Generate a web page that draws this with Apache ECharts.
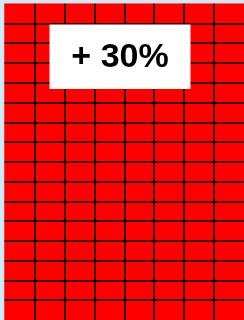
<!DOCTYPE html>
<html>
<head>
<meta charset="utf-8">
<script src="https://cdn.jsdelivr.net/npm/echarts@6/dist/echarts.min.js"></script>
<style>
  html, body { margin: 0; padding: 0; background: #cfe9f7; }
  #chart { width: 244px; height: 320px; }
</style>
</head>
<body>
<div id="chart"></div>
<script>
// grid of cells, 8 columns by 16 rows, all same value
var columns = ['A', 'B', 'C', 'D', 'E', 'F', 'G', 'H'];
var rows = ['1', '2', '3', '4', '5', '6', '7', '8', '9', '10', '11', '12', '13', '14', '15', '16'];
var cellValues = [
  [1, 1, 1, 1, 1, 1, 1, 1],
  [1, 1, 1, 1, 1, 1, 1, 1],
  [1, 1, 1, 1, 1, 1, 1, 1],
  [1, 1, 1, 1, 1, 1, 1, 1],
  [1, 1, 1, 1, 1, 1, 1, 1],
  [1, 1, 1, 1, 1, 1, 1, 1],
  [1, 1, 1, 1, 1, 1, 1, 1],
  [1, 1, 1, 1, 1, 1, 1, 1],
  [1, 1, 1, 1, 1, 1, 1, 1],
  [1, 1, 1, 1, 1, 1, 1, 1],
  [1, 1, 1, 1, 1, 1, 1, 1],
  [1, 1, 1, 1, 1, 1, 1, 1],
  [1, 1, 1, 1, 1, 1, 1, 1],
  [1, 1, 1, 1, 1, 1, 1, 1],
  [1, 1, 1, 1, 1, 1, 1, 1],
  [1, 1, 1, 1, 1, 1, 1, 1]
];
var badgeText = '+ 30%';

var data = [];
for (var r = 0; r < rows.length; r++) {
  for (var c = 0; c < columns.length; c++) {
    data.push([c, r, cellValues[r][c]]);
  }
}

var myChart = echarts.init(document.getElementById('chart'));
var option = {
  animation: false,
  backgroundColor: '#cfe9f7',
  grid: { left: 4.5, top: 3.7, width: 241.6, height: 316.5 },
  xAxis: {
    type: 'category',
    data: columns,
    z: 5,
    axisLine: { show: false },
    axisTick: { show: false },
    axisLabel: { show: false },
    splitLine: { show: true, showMinLine: false, showMaxLine: false, lineStyle: { color: '#000', width: 2, opacity: 0.8 } }
  },
  yAxis: {
    type: 'category',
    data: rows,
    inverse: true,
    z: 5,
    axisLine: { show: false },
    axisTick: { show: false },
    axisLabel: { show: false },
    splitLine: { show: true, showMinLine: false, showMaxLine: false, lineStyle: { color: '#000', width: 2, opacity: 0.8 } }
  },
  visualMap: {
    show: false,
    min: 0,
    max: 1,
    inRange: { color: ['#ff0000', '#ff0000'] }
  },
  series: [{
    type: 'heatmap',
    data: data,
    itemStyle: { color: '#ff0000' },
    emphasis: { disabled: true }
  }],
  graphic: [{
    type: 'rect',
    z: 10,
    shape: { x: 49.5, y: 24.5, width: 141, height: 64.5 },
    style: { fill: '#fff' }
  }, {
    type: 'text',
    z: 11,
    x: 120,
    y: 57.5,
    style: {
      text: badgeText,
      fill: '#000',
      font: 'bold 34px "Liberation Sans", Arial, sans-serif',
      align: 'center',
      verticalAlign: 'middle'
    }
  }]
};
myChart.setOption(option);
</script>
</body>
</html>
